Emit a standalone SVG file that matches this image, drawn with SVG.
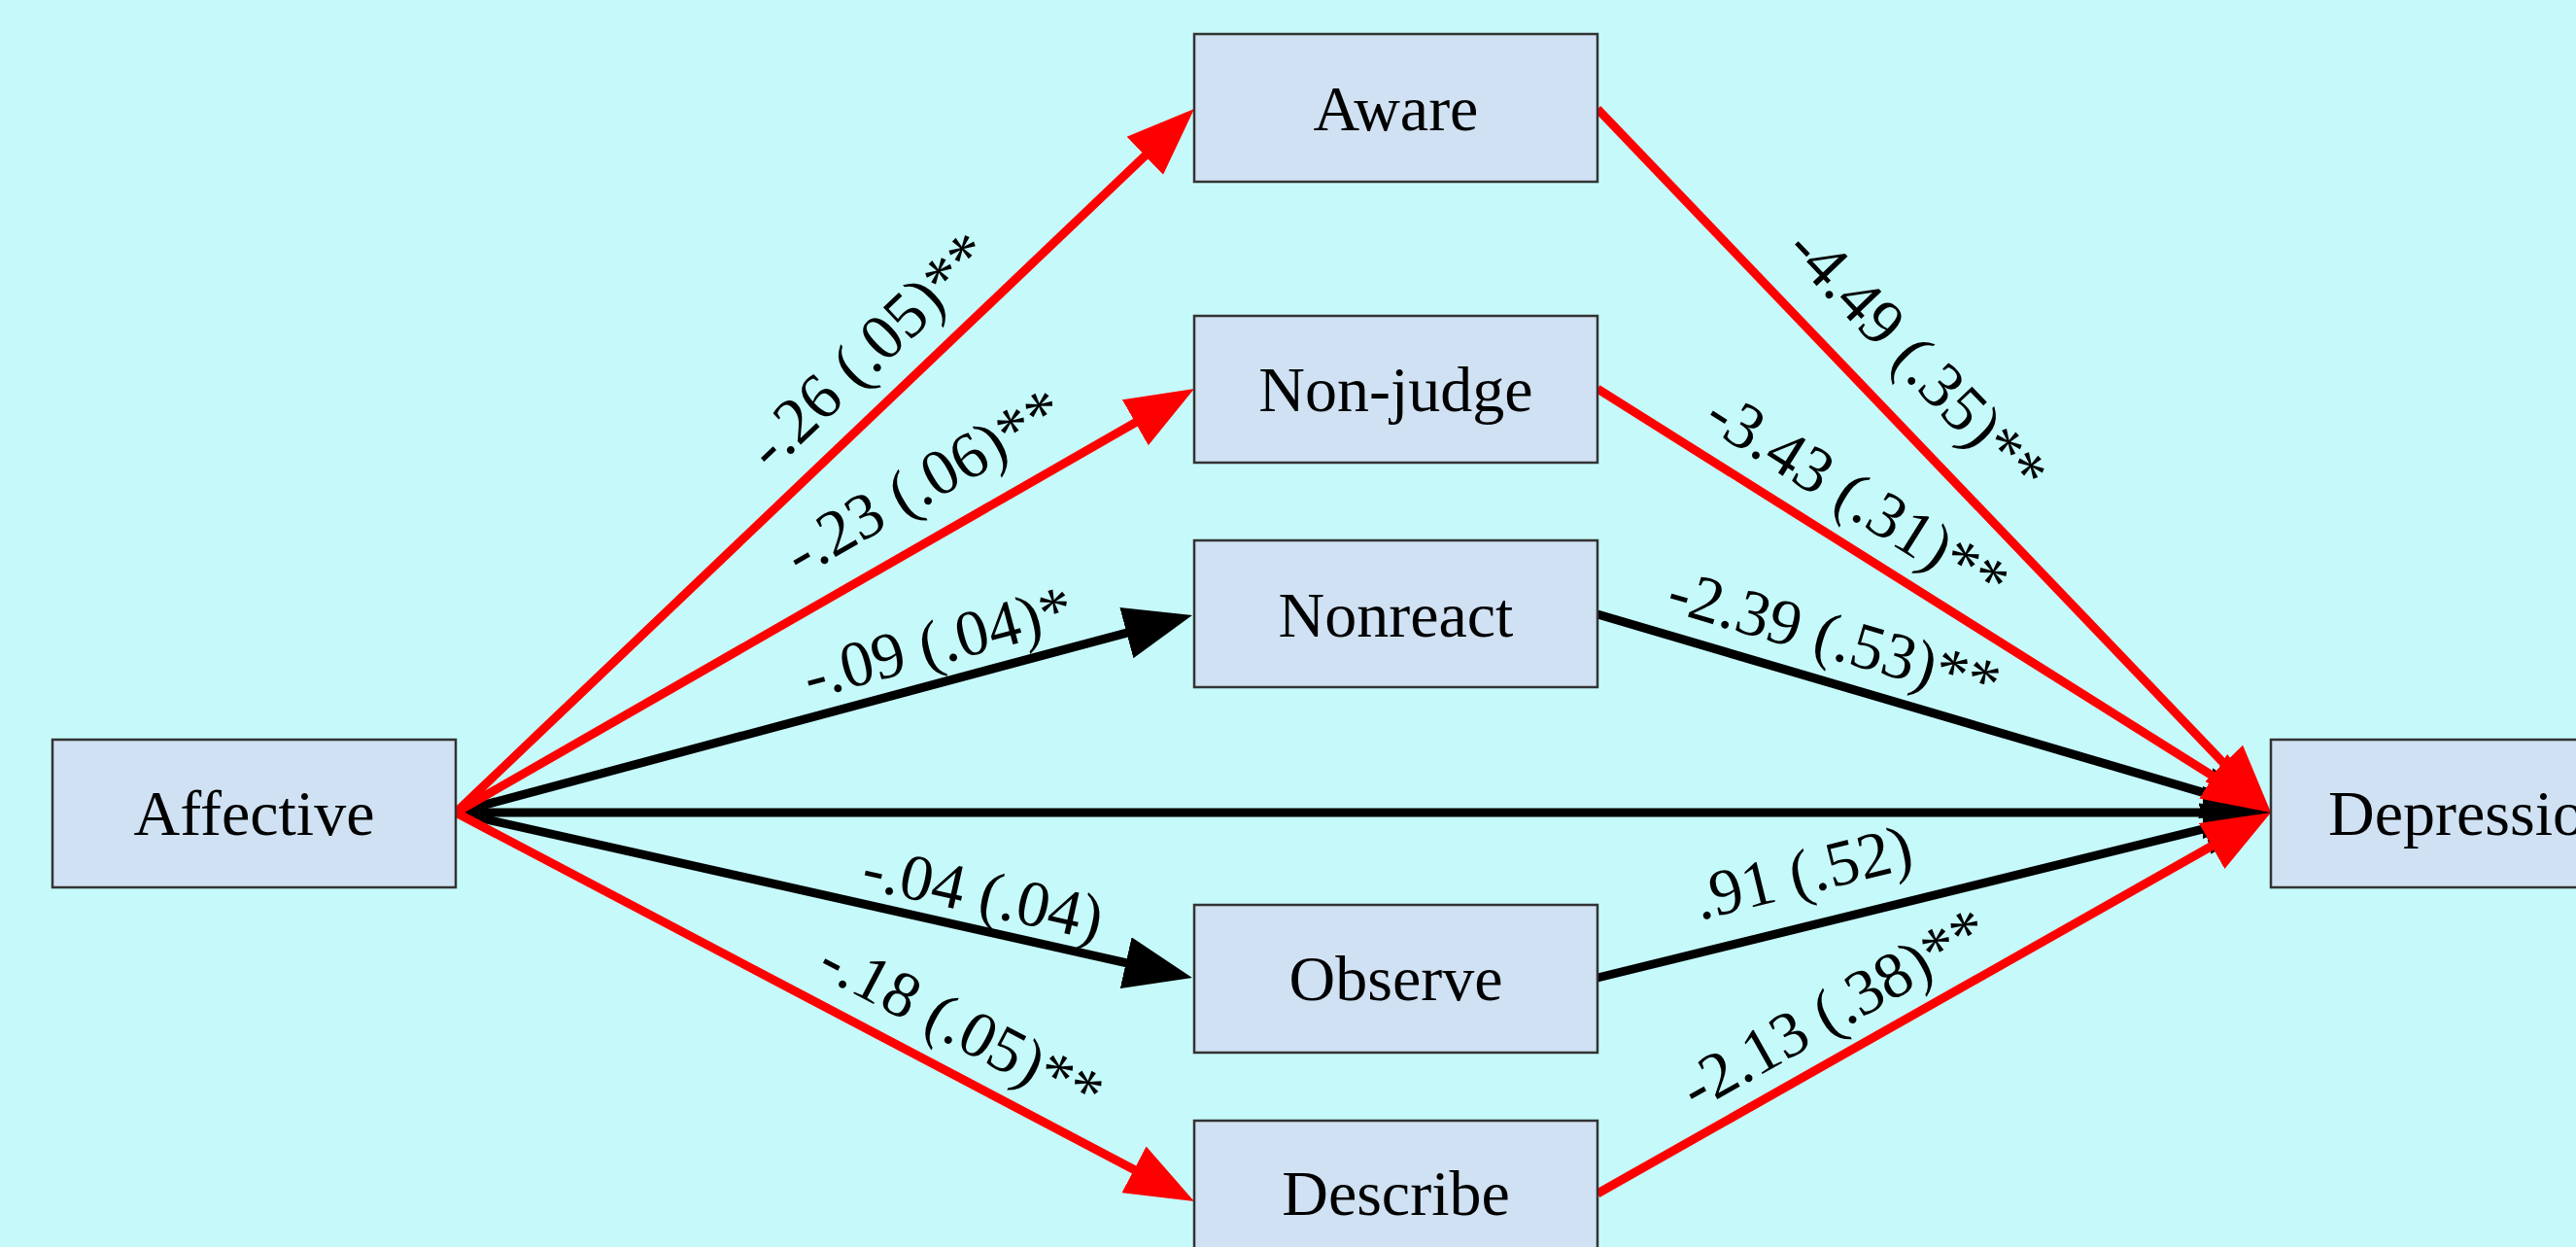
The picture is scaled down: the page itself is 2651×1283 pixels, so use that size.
<svg xmlns="http://www.w3.org/2000/svg" width="2651" height="1283" viewBox="0 0 2651 1283">
<style>
.node rect{fill:#CFE1F2;stroke:#333;stroke-width:2.5}
.node text{font-family:"Liberation Serif","Times New Roman",serif;font-size:66px;fill:#000;text-anchor:middle}
.lbl{font-family:"Liberation Serif","Times New Roman",serif;font-size:67px;fill:#000;text-anchor:middle;dominant-baseline:central}
.r{stroke:#FF0000;stroke-width:9;fill:none;marker-end:url(#ar)}
.k{stroke:#000;stroke-width:9;fill:none;marker-end:url(#ak)}
</style>
<defs>
<marker id="ar" markerUnits="userSpaceOnUse" markerWidth="70" markerHeight="54" refX="40" refY="27" orient="auto" viewBox="0 0 70 54"><path d="M0,0 L70,27 L0,54 z" fill="#FF0000"/></marker>
<marker id="ak" markerUnits="userSpaceOnUse" markerWidth="70" markerHeight="54" refX="40" refY="27" orient="auto" viewBox="0 0 70 54"><path d="M0,0 L70,27 L0,54 z" fill="#000"/></marker>
</defs>
<rect x="0" y="0" width="2651" height="1283" fill="#C6FAFA"/>
<g id="connectors">
<path class="k" d="M469,836 L1198,640.8"/>
<path class="k" d="M469,836 L1197.7,999.4"/>
<path class="k" d="M469,836 L2307,836"/>
<path class="k" d="M1644,632 L2308.2,827.5"/>
<path class="k" d="M1644,1006 L2307.9,843.1"/>
<path class="r" d="M469,836 L1207.3,132.7"/>
<path class="r" d="M469,836 L1203,414.9"/>
<path class="r" d="M469,836 L1202.4,1222"/>
<path class="r" d="M1644,112 L2316.3,814.3"/>
<path class="r" d="M1644,400 L2311.6,820"/>
<path class="r" d="M1644,1228 L2310.9,850.8"/>
<text class="lbl" transform="translate(893 360) rotate(-43.6)">-.26 (.05)**</text>
<text class="lbl" transform="translate(950 495) rotate(-29.8)">-.23 (.06)**</text>
<text class="lbl" transform="translate(965 660) rotate(-15)">-.09 (.04)*</text>
<text class="lbl" transform="translate(1012 918) rotate(12.6)">-.04 (.04)</text>
<text class="lbl" transform="translate(990 1055) rotate(27.8)">-.18 (.05)**</text>
<text class="lbl" transform="translate(1974 370) rotate(46.25)">-4.49 (.35)**</text>
<text class="lbl" transform="translate(1912 511) rotate(32.2)">-3.43 (.31)**</text>
<text class="lbl" transform="translate(1888 655) rotate(16.4)">-2.39 (.53)**</text>
<text class="lbl" transform="translate(1855 897) rotate(-13.8)">.91 (.52)</text>
<text class="lbl" transform="translate(1887 1037) rotate(-29.5)">-2.13 (.38)**</text>
</g>
<g id="affective" class="node"><rect x="54" y="761" width="415" height="152"/><text x="261.5" y="859">Affective</text></g>
<g id="aware" class="node"><rect x="1229" y="35" width="415" height="152"/><text x="1436.5" y="134">Aware</text></g>
<g id="nonjudge" class="node"><rect x="1229" y="325" width="415" height="151"/><text x="1436.5" y="423">Non-judge</text></g>
<g id="nonreact" class="node"><rect x="1229" y="556" width="415" height="151"/><text x="1436.5" y="655">Nonreact</text></g>
<g id="observe" class="node"><rect x="1229" y="931" width="415" height="152"/><text x="1436.5" y="1029">Observe</text></g>
<g id="describe" class="node"><rect x="1229" y="1153" width="415" height="152"/><text x="1436.5" y="1250">Describe</text></g>
<g id="depression" class="node"><rect x="2337" y="761" width="415" height="152"/><text x="2544.5" y="859">Depression</text></g>
</svg>
